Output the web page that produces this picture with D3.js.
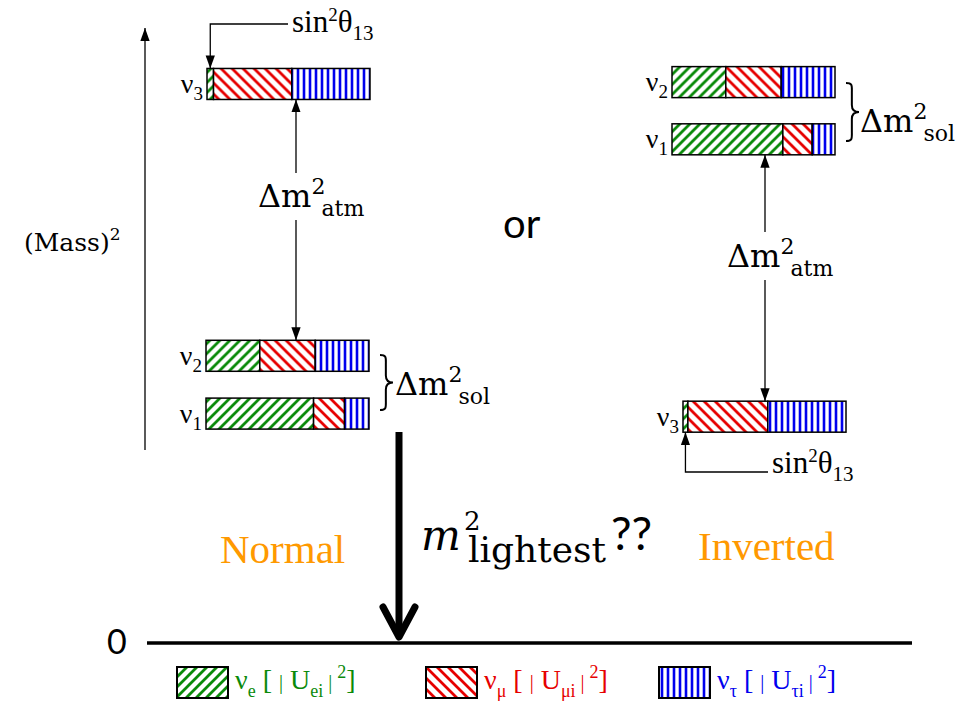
<!DOCTYPE html>
<html>
<head>
<meta charset="utf-8">
<script src="https://cdn.jsdelivr.net/npm/d3@7"></script>
<style>
body { margin: 0; background: #fff; }
</style>
</head>
<body>
<div id="chart"></div>
<script>
"use strict";

// mass states and flavours
var states = ["1", "2", "3"];
var flavours = ["e", "μ", "τ"];

// |U_fi|^2 content of each mass state (ν1, ν2, ν3)
var normalUe   = [0.66, 0.33, 0.04];
var normalUmu  = [0.19, 0.34, 0.48];
var normalUtau = [0.15, 0.33, 0.48];
var invertedUe   = [0.68, 0.33, 0.03];
var invertedUmu  = [0.18, 0.34, 0.49];
var invertedUtau = [0.14, 0.33, 0.48];

// (mass)^2 level of each state, arbitrary units (0 = bottom line)
var normalMass2   = [37.3, 46.7, 90.9];
var invertedMass2 = [81.9, 91.2, 36.8];

var W = 963, H = 702;
var barW = 163, barH = 31;
var serif = "Liberation Serif";
var sans = "Lato";
var dejavu = "DejaVu Serif";
var flavourColor = ["#0a8a0a", "#e60000", "#0000ee"];
var orange = "#ff9900";

var svg = d3.select("#chart").append("svg")
    .attr("width", W)
    .attr("height", H)
    .style("background", "#fff");

var y = d3.scaleLinear().domain([0, 100]).range([643, 28]);

var defs = svg.append("defs");

// hatch patterns: "/" green, "\" red, "|" blue
var hatch = [
    { w: 10, h: 10, d: "M0,10L10,0M-3,3L3,-3M7,13L13,7" },
    { w: 11, h: 11, d: "M0,0L11,11M-3,8L3,14M8,-3L14,3" },
    { w: 6, h: 6, d: "M3,-1L3,7" }
];
hatch.forEach(function (p, k) {
    var pat = defs.append("pattern")
        .attr("id", "hatch" + k)
        .attr("patternUnits", "userSpaceOnUse")
        .attr("width", p.w)
        .attr("height", p.h);
    pat.append("rect").attr("width", p.w).attr("height", p.h).attr("fill", "#fff");
    pat.append("path").attr("d", p.d)
        .attr("stroke", flavourColor[k])
        .attr("stroke-width", k === 2 ? 2.6 : 2.8)
        .attr("fill", "none");
});

defs.append("marker")
    .attr("id", "head")
    .attr("viewBox", "0 0 14 10")
    .attr("refX", 14).attr("refY", 5)
    .attr("markerWidth", 13).attr("markerHeight", 10)
    .attr("markerUnits", "userSpaceOnUse")
    .attr("orient", "auto")
    .append("path").attr("d", "M0,0L14,5L0,10Z").attr("fill", "#000");

// plain text helper
function label(sel, x, yy, str, size, family, fill) {
    return sel.append("text")
        .attr("x", x).attr("y", yy)
        .style("font-family", family)
        .style("font-size", size + "px")
        .attr("fill", fill || "#000")
        .text(str);
}

// text with sub/superscripts: parts = [str, baselineOffset, fontSize, dx]
function richText(sel, x, yy, parts, size, family, fill, anchor) {
    var t = sel.append("text")
        .attr("x", x).attr("y", yy)
        .style("font-family", family)
        .style("font-size", size + "px")
        .attr("fill", fill || "#000")
        .attr("text-anchor", anchor || "start");
    var shift = 0;
    parts.forEach(function (p) {
        var off = p[1] || 0;
        var ts = t.append("tspan")
            .attr("dy", off - shift)
            .style("font-size", (p[2] || size) + "px")
            .text(p[0]);
        if (p[3]) ts.attr("dx", p[3]);
        shift = off;
    });
    return t;
}

function bracePath(x, y0, y1, w) {
    var ym = (y0 + y1) / 2, xm = x + w * 0.45;
    return "M" + x + "," + y0 +
        "C" + (xm + 1) + "," + y0 + " " + xm + "," + (y0 + 3) + " " + xm + "," + (y0 + 10) +
        "L" + xm + "," + (ym - 7) +
        "C" + xm + "," + (ym - 2) + " " + (x + w * 0.7) + "," + ym + " " + (x + w) + "," + ym +
        "C" + (x + w * 0.7) + "," + ym + " " + xm + "," + (ym + 2) + " " + xm + "," + (ym + 7) +
        "L" + xm + "," + (y1 - 10) +
        "C" + xm + "," + (y1 - 3) + " " + (xm + 1) + "," + y1 + " " + x + "," + y1;
}

function drawOrdering(cfg) {
    var x = d3.scaleLinear().domain([0, 1]).range([cfg.x0, cfg.x0 + barW]);
    var rows = states.map(function (s, i) {
        var fr = [cfg.ue[i], cfg.umu[i], cfg.utau[i]];
        var tot = d3.sum(fr), acc = 0;
        return {
            state: s,
            m2: cfg.mass2[i],
            shift: cfg.shift[i],
            segs: fr.map(function (f, k) {
                var s0 = { k: k, a: acc / tot, b: (acc + f) / tot };
                acc += f;
                return s0;
            })
        };
    });
    var g = svg.append("g");
    var lev = g.selectAll("g.level")
        .data(rows)
        .enter().append("g")
        .attr("class", "level")
        .attr("transform", function (d) {
            return "translate(" + d.shift + "," + (y(d.m2) - barH / 2) + ")";
        });
    lev.selectAll("rect.seg")
        .data(function (d) { return d.segs; })
        .enter().append("rect")
        .attr("class", "seg")
        .attr("x", function (d) { return x(d.a); })
        .attr("width", function (d) { return x(d.b) - x(d.a); })
        .attr("height", barH)
        .attr("fill", function (d) { return "url(#hatch" + d.k + ")"; })
        .attr("stroke", "#000")
        .attr("stroke-width", 1.5);
    lev.each(function (d) {
        richText(d3.select(this), x(0) - 4, barH / 2 + 9,
            [["ν", 0], [d.state, 7, 19]], 28, serif, "#000", "end");
    });
    cfg.rows = rows;
    cfg.x = x;
    return cfg;
}

var normal = drawOrdering({
    x0: 206, shift: [0, 0, 1],
    ue: normalUe, umu: normalUmu, utau: normalUtau, mass2: normalMass2
});
var inverted = drawOrdering({
    x0: 672, shift: [0, 0, 11],
    ue: invertedUe, umu: invertedUmu, utau: invertedUtau, mass2: invertedMass2
});

var thin = svg.append("g").attr("stroke", "#000").attr("stroke-width", 1.3).attr("fill", "none");

// (mass)^2 axis
thin.append("line")
    .attr("x1", 145).attr("x2", 145)
    .attr("y1", 450).attr("y2", y(100))
    .attr("marker-end", "url(#head)");
richText(svg, 24, 251, [["(Mass)", 0], ["2", -11, 17]], 25, dejavu);

// atmospheric splitting arrows
function atmArrow(cfg, from, to, ax, gap0, gap1) {
    var top = y(cfg.mass2[from]) + barH / 2;
    var bot = y(cfg.mass2[to]) - barH / 2;
    thin.append("line").attr("x1", ax).attr("x2", ax).attr("y1", gap0).attr("y2", top)
        .attr("marker-end", "url(#head)");
    thin.append("line").attr("x1", ax).attr("x2", ax).attr("y1", gap1).attr("y2", bot)
        .attr("marker-end", "url(#head)");
}
atmArrow(normal, 2, 1, 296, 173, 220);
atmArrow(inverted, 0, 2, 765, 232, 280);

function dmLabel(x0, base, sub) {
    richText(svg, x0, base,
        [["Δm", 0], ["2", -13, 22], [sub, 9, 22, -4]], 32, dejavu);
}
dmLabel(258, 207, "atm");
dmLabel(727, 267, "atm");
dmLabel(395, 395, "sol");
dmLabel(860, 132, "sol");

// solar splitting braces
svg.append("path").attr("d", bracePath(380, 355, 410, 13))
    .attr("fill", "none").attr("stroke", "#000").attr("stroke-width", 2);
svg.append("path").attr("d", bracePath(846, 83, 141, 13))
    .attr("fill", "none").attr("stroke", "#000").attr("stroke-width", 2);

// sin^2 theta13 leaders
function sinLabel(x0, base) {
    richText(svg, x0, base,
        [["sin", 0], ["2", -11, 19], ["θ", 0], ["13", 8, 21]], 31, serif);
}
var nTop = y(normalMass2[2]) - barH / 2;
var nGx = normal.x(normal.rows[2].segs[0].b / 2) + normal.rows[2].shift;
thin.append("path").attr("d", "M288,24H" + nGx + "V" + nTop).attr("marker-end", "url(#head)");
sinLabel(292, 32);

var iBot = y(invertedMass2[2]) + barH / 2;
var iGx = inverted.x(inverted.rows[2].segs[0].b / 2) + inverted.rows[2].shift;
thin.append("path").attr("d", "M768,472H" + iGx + "V" + iBot).attr("marker-end", "url(#head)");
sinLabel(772, 473);

label(svg, 503, 238, "or", 40, sans);
label(svg, 220, 563, "Normal", 41, serif, orange);
label(svg, 698, 560, "Inverted", 41, serif, orange);

// zero line and lightest-mass arrow
svg.append("line")
    .attr("x1", 147).attr("x2", 912)
    .attr("y1", y(0)).attr("y2", y(0))
    .attr("stroke", "#000").attr("stroke-width", 3.4);
label(svg, 107, y(0) + 11, "0", 34, sans);

var big = svg.append("g").attr("stroke", "#000").attr("stroke-width", 7)
    .attr("fill", "none").attr("stroke-linecap", "round").attr("stroke-linejoin", "round");
big.append("line").attr("x1", 399).attr("x2", 399).attr("y1", 432).attr("y2", y(0) - 6)
    .attr("stroke-linecap", "butt");
big.append("path").attr("d", "M383,607L399," + (y(0) - 6) + "L415,607");

label(svg, 421, 550, "m", 42, dejavu).style("font-style", "italic");
label(svg, 464, 530, "2", 26, dejavu);
label(svg, 468, 562, "lightest", 36, dejavu);
label(svg, 611, 550, "??", 46, sans);

// legend
var legendX = [177, 426, 659];
var leg = svg.append("g").selectAll("g")
    .data(flavours)
    .enter().append("g")
    .attr("transform", function (d, i) { return "translate(" + legendX[i] + ",667)"; });
leg.append("rect")
    .attr("width", 51).attr("height", 31)
    .attr("fill", function (d, i) { return "url(#hatch" + i + ")"; })
    .attr("stroke", "#000").attr("stroke-width", 2);
leg.each(function (d, i) {
    richText(d3.select(this), 58, 22,
        [["ν", 0], [d, 8, 18], [" [ ", 0], ["|", 0, 20], [" U", 0], [d + "i", 8, 18],
         [" | ", 0, 20], ["2", -11, 18], ["]", 0]], 28, serif, flavourColor[i]);
});
</script>
</body>
</html>
